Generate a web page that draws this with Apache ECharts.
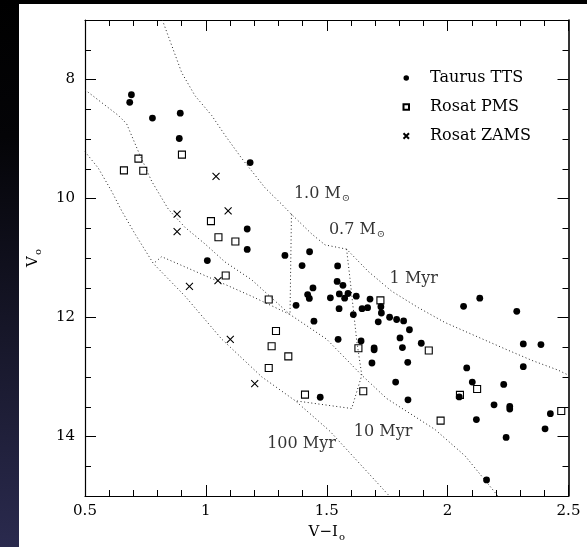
<!DOCTYPE html>
<html><head><meta charset="utf-8">
<script src="https://cdn.jsdelivr.net/npm/echarts@6/dist/echarts.min.js"></script>
<style>
html,body{margin:0;padding:0;width:587px;height:547px;background:#000;overflow:hidden;}
#strip{position:absolute;left:0;top:0;width:19px;height:547px;background:linear-gradient(to bottom,#000 0%,#040407 25%,#161628 60%,#2a2a4e 100%);}
#page{position:absolute;left:19px;top:4px;width:568px;height:543px;background:#fff;}
#chart{position:absolute;left:0;top:0;width:587px;height:547px;}
</style></head><body>
<div id="strip"></div><div id="page"></div><div id="chart"></div>
<script>
// ---- data ----
const taurusTTS = [
  [0.692,8.256],[0.685,8.383],[0.779,8.649],[0.894,8.566],[0.890,8.992],[1.183,9.396],
  [1.171,10.513],[1.171,10.856],[1.327,10.956],[1.429,10.895],[1.006,11.044],
  [1.398,11.127],[1.443,11.503],[1.421,11.614],[1.428,11.680],[1.373,11.796],[1.447,12.062],[1.473,13.340],
  [1.545,11.133],[1.543,11.393],[1.567,11.459],[1.515,11.669],[1.552,11.603],[1.574,11.675],[1.588,11.597],
  [1.622,11.642],[1.551,11.852],[1.679,11.691],[1.646,11.852],[1.669,11.835],[1.724,11.819],[1.726,11.924],
  [1.610,11.951],[1.713,12.073],[1.760,11.996],[1.789,12.034],[1.818,12.057],[1.842,12.206],[1.547,12.366],
  [1.642,12.394],[1.696,12.510],[1.696,12.543],[1.803,12.344],[1.813,12.505],[1.891,12.433],[1.687,12.765],
  [1.835,12.754],[2.079,12.848],[1.785,13.086],[1.836,13.384],[2.102,13.086],[2.048,13.335],[2.232,13.124],
  [2.192,13.467],[2.257,13.495],[2.257,13.539],[2.119,13.716],[2.242,14.015],[2.403,13.871],[2.425,13.617],
  [2.066,11.813],[2.133,11.675],[2.286,11.896],[2.313,12.444],[2.386,12.455],[2.313,12.826],[2.161,14.729]
];
const rosatPMS = [
  [0.721,9.329],[0.661,9.528],[0.741,9.534],[0.901,9.263],[1.021,10.380],[1.052,10.651],[1.122,10.723],
  [1.082,11.293],[1.260,11.697],[1.290,12.228],[1.272,12.482],[1.341,12.654],[1.260,12.848],[1.410,13.296],
  [1.722,11.713],[1.631,12.516],[1.922,12.554],[1.651,13.240],[2.051,13.301],[2.122,13.202],[1.971,13.733],[2.470,13.572]
];
const rosatZAMS = [
  [1.042,9.628],[0.881,10.264],[1.092,10.209],[0.881,10.557],[0.932,11.476],[1.050,11.382],[1.101,12.366],[1.202,13.113]
];
// isochrones and mass tracks
const iso1Myr = [
  [0.820,7.0],[0.845,7.277],[0.900,7.885],[0.955,8.272],[1.024,8.604],[1.079,8.936],[1.148,9.324],
  [1.245,9.822],[1.314,10.098],[1.354,10.265],[1.438,10.596],[1.493,10.78],[1.582,10.851],
  [1.672,11.227],[1.769,11.559],[1.879,11.835],[1.989,12.084],[2.113,12.306],[2.237,12.527],
  [2.348,12.720],[2.458,12.886],[2.5,12.97]
];
const iso10Myr = [
  [0.5,8.173],[0.638,8.604],[0.672,8.743],[0.721,9.213],[0.776,9.711],[0.845,10.181],[0.914,10.486],
  [0.996,10.762],[1.079,11.066],[1.189,11.365],[1.348,11.95],[1.500,12.366],[1.645,12.97],
  [1.748,13.362],[1.948,13.883],[2.072,14.325],[2.208,15.0]
];
const iso100Myr = [
  [0.5,9.213],[0.555,9.490],[0.610,9.877],[0.652,10.209],[0.707,10.596],[0.783,11.094],[0.914,11.642],
  [1.065,12.361],[1.231,12.997],[1.37,13.40],[1.513,13.910],[1.759,15.0]
];
const track10 = [[1.354,10.265],[1.348,11.95],[1.189,11.642],[1.051,11.393],[0.817,10.978],[0.783,11.094]];
const track07 = [[1.582,10.851],[1.596,11.34],[1.624,12.39],[1.645,12.97],[1.603,13.53],[1.37,13.40]];
const curveLabels = [
  {name:'1.0 M{s|⊙}', value:[1.362,9.921]},
  {name:'0.7 M{s|⊙}', value:[1.507,10.52]},
  {name:'1 Myr', value:[1.758,11.352]},
  {name:'10 Myr', value:[1.610,13.926]},
  {name:'100 Myr', value:[1.2515,14.13]}
];
const xTicks = {min:0.5, max:2.5, interval:0.5};
const yMajor = [8,10,12,14];
const yMinor = [7.5,8.5,9,9.5,10.5,11,11.5,12.5,13,13.5,14.5];
const seriesNames = ['Taurus TTS','Rosat PMS','Rosat ZAMS'];

// ---- chart ----
const FONT = 'DejaVu Serif';
const CROSS = 'path://M0,0L10,10M10,0L0,10';
const subRich = {s:{fontFamily:FONT, fontSize:10, color:'#000', padding:[9,0,0,1]}};
const lineBase = {color:'#000', width:1.2};

function xAx(pos, labels){
  return {type:'value', position:pos, min:xTicks.min, max:xTicks.max, interval:xTicks.interval,
    axisLine:{show:true, onZero:false, lineStyle:lineBase},
    axisTick:{show:true, inside:true, length:11, lineStyle:{color:'#000', width:1}},
    minorTick:{show:true, splitNumber:5, length:6, lineStyle:{color:'#000', width:1}},
    axisLabel:{show:labels, color:'#000', fontFamily:FONT, fontSize:15, margin:8},
    splitLine:{show:false}, minorSplitLine:{show:false}};
}
function yAx(pos, vals, len, labels, line){
  return {type:'value', position:pos, min:7, max:15, inverse:true,
    axisLine:{show:line, onZero:false, lineStyle:{color:'#000', width: pos==='right'?1.6:1.2}},
    axisTick:{show:true, inside:true, length:len, customValues:vals, lineStyle:{color:'#000', width:1}},
    axisLabel:{show:labels, customValues:vals, color:'#000', fontFamily:FONT, fontSize:15, margin:10},
    splitLine:{show:false}};
}
const xa0 = xAx('bottom', true);
xa0.name = 'V−I{s|o}'; xa0.nameLocation = 'middle'; xa0.nameGap = 27;
xa0.nameTextStyle = {color:'#000', fontFamily:FONT, fontSize:15, rich:subRich};
const ya0 = yAx('left', yMajor, 11, true, true);
ya0.name = 'V{s|o}'; ya0.nameLocation = 'middle'; ya0.nameGap = 42;
ya0.nameTextStyle = {color:'#000', fontFamily:FONT, fontSize:15, rich:subRich};

function curve(d){
  return {type:'line', data:d, xAxisIndex:0, yAxisIndex:0, symbol:'none', showSymbol:false, silent:true,
    lineStyle:{color:'#222', width:1, type:[1,2.6]}, z:1};
}

const option = {
  animation:false,
  backgroundColor:'transparent',
  textStyle:{fontFamily:FONT},
  grid:{left:85, top:20, width:483.5, height:482},
  xAxis:[xa0, xAx('top', false)],
  yAxis:[ya0, yAx('left', yMinor, 6, false, false), yAx('right', yMajor, 11, false, true), yAx('right', yMinor, 6, false, false)],
  legend:{orient:'vertical', left:397.5, top:64, itemWidth:5.5, itemHeight:5.5, itemGap:11, selectedMode:false,
    data:[{name:seriesNames[0], icon:'circle'},{name:seriesNames[1], icon:'rect'},{name:seriesNames[2], icon:CROSS}],
    textStyle:{fontFamily:FONT, fontSize:16, color:'#000', lineHeight:18, padding:[0,0,0,16]}},
  series:[
    curve(iso1Myr), curve(iso10Myr), curve(iso100Myr), curve(track10), curve(track07),
    {type:'scatter', name:seriesNames[0], data:taurusTTS, symbol:'circle', symbolSize:6.8, itemStyle:{color:'#000', opacity:1}, z:5},
    {type:'scatter', name:seriesNames[1], data:rosatPMS, symbol:'rect', symbolSize:7,
      itemStyle:{color:'rgba(255,255,255,0)', borderColor:'#000', borderWidth:1.1, opacity:1}, z:4},
    {type:'scatter', name:seriesNames[2], data:rosatZAMS, symbol:CROSS, symbolSize:7,
      itemStyle:{color:'rgba(255,255,255,0)', borderColor:'#000', borderWidth:1.1, opacity:1}, z:4},
    {type:'scatter', data:curveLabels, symbolSize:1, itemStyle:{color:'rgba(0,0,0,0)'}, silent:true, z:6,
      label:{show:true, position:'right', distance:0, formatter:p=>p.name, color:'#000', fontFamily:FONT, fontSize:16, rich:subRich}}
  ]
};
const chart = echarts.init(document.getElementById('chart'), null, {renderer:'canvas'});
chart.setOption(option);
</script></body></html>
